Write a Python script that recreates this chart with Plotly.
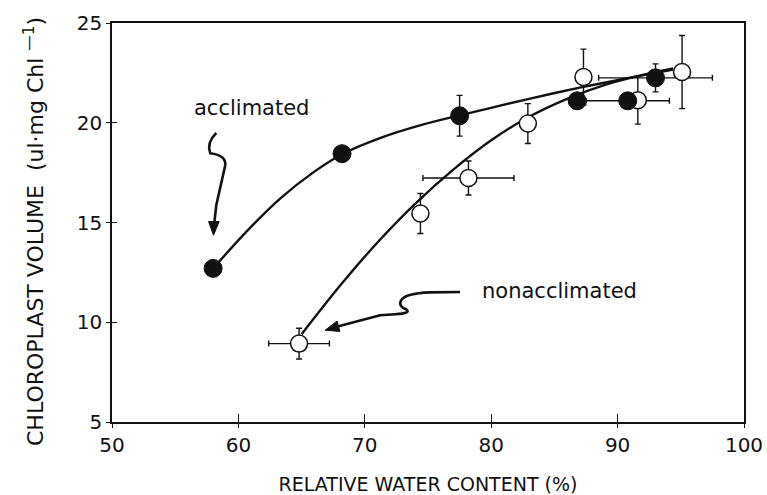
import plotly.graph_objects as go

# ---------------- data ----------------
acc_x = [58.0, 68.2, 77.5, 86.8, 90.8, 93.0]
acc_y = [12.7, 18.45, 20.35, 21.1, 21.1, 22.25]
acc_yerr = [0, 0, 1.02, 0, 0, 0.7]
acc_xerr = [0, 0, 0, 0, 3.3, 4.5]

non_x = [64.8, 74.4, 78.2, 82.9, 87.3, 91.6, 95.1]
non_y = [8.93, 15.45, 17.23, 19.96, 22.29, 21.13, 22.54]
non_yerr = [0.77, 1.0, 0.85, 1.0, 1.4, 1.2, 1.83]
non_xerr = [2.4, 0, 3.6, 0, 0, 0, 0]

# fitted curves
acc_curve_x = [58.0, 60.6, 63.3, 65.9, 68.2, 71.2, 74.5, 77.5, 83.0, 87.0, 90.5, 94.4]
acc_curve_y = [12.7, 14.52, 16.2, 17.5, 18.42, 19.23, 19.89, 20.37, 21.2, 21.76, 22.2, 22.67]
non_curve_x = [65.0, 68.0, 71.0, 74.0, 77.0, 80.0, 83.0, 86.0, 89.0, 92.0, 94.4]
non_curve_y = [9.4, 11.8, 14.0, 15.95, 17.65, 19.12, 20.3, 21.2, 21.9, 22.4, 22.72]

x_ticks = [50, 60, 70, 80, 90, 100]
y_ticks = [5, 10, 15, 20, 25]

FONT = "DejaVu Sans"
INK = "#111111"

fig = go.Figure()

# curves (main subplot, below markers)
fig.add_trace(go.Scatter(x=acc_curve_x, y=acc_curve_y, mode="lines",
                         line=dict(color=INK, width=2.4, shape="spline", smoothing=0.8),
                         hoverinfo="skip", showlegend=False))
fig.add_trace(go.Scatter(x=non_curve_x, y=non_curve_y, mode="lines",
                         line=dict(color=INK, width=2.4, shape="spline", smoothing=0.8),
                         hoverinfo="skip", showlegend=False))

# error bars of filled points (drawn beneath open circles)
fig.add_trace(go.Scatter(x=acc_x, y=acc_y, mode="markers", xaxis="x2", yaxis="y2",
                         marker=dict(size=2, color="rgba(0,0,0,0)"),
                         error_y=dict(type="data", array=acc_yerr, color=INK, thickness=1.4, width=3),
                         error_x=dict(type="data", array=acc_xerr, color=INK, thickness=1.4, width=3),
                         hoverinfo="skip", showlegend=False))

# open circles (nonacclimated)
fig.add_trace(go.Scatter(x=non_x, y=non_y, mode="markers", xaxis="x2", yaxis="y2",
                         marker=dict(size=17, color="white", line=dict(color=INK, width=1.5)),
                         error_y=dict(type="data", array=non_yerr, color=INK, thickness=1.4, width=3),
                         error_x=dict(type="data", array=non_xerr, color=INK, thickness=1.4, width=3),
                         name="nonacclimated", showlegend=False))

# filled circles (acclimated) on top
fig.add_trace(go.Scatter(x=acc_x, y=acc_y, mode="markers", xaxis="x2", yaxis="y2",
                         marker=dict(size=18, color=INK, line=dict(color=INK, width=1)),
                         name="acclimated", showlegend=False))

# squiggly arrows (line + filled head)
fig.add_shape(type="path", xref="x", yref="y",
              path="M 58.25,19.49 Q 57.45,18.97 57.77,18.47 Q 59.04,18.37 58.96,17.87 "
                   "L 58.25,15.86 L 58.08,14.9",
              line=dict(color=INK, width=2.6))
fig.add_shape(type="path", xref="x", yref="y",
              path="M 58.03,14.36 L 57.64,15.05 L 58.48,15.05 Z",
              line=dict(color=INK, width=1), fillcolor=INK)
fig.add_shape(type="path", xref="x", yref="y",
              path=("M 77.53,11.52 L 75.16,11.50 Q 73.19,11.45 72.87,11.10 "
                    "Q 72.63,10.80 73.27,10.65 Q 73.74,10.45 72.40,10.40 "
                    "L 71.21,10.35 L 67.92,9.80"),
              line=dict(color=INK, width=2.6))
fig.add_shape(type="path", xref="x", yref="y",
              path="M 66.86,9.60 L 68.03,9.54 L 67.81,10.06 Z",
              line=dict(color=INK, width=1), fillcolor=INK)

fig.add_annotation(x=61.07, y=20.72, xref="x", yref="y", text="acclimated",
                   showarrow=False, font=dict(family=FONT, size=21, color=INK))
fig.add_annotation(x=85.44, y=11.58, xref="x", yref="y", text="nonacclimated",
                   showarrow=False, font=dict(family=FONT, size=21, color=INK))

# y-axis title as rotated annotation
fig.add_annotation(x=-0.1245, y=0.477, xref="paper", yref="paper",
                   xanchor="center", yanchor="middle",
                   text="CHLOROPLAST VOLUME  (ul·mg Chl <sup>—1</sup>)",
                   textangle=-90, showarrow=False,
                   font=dict(family=FONT, size=22, color=INK))

axis_common = dict(showgrid=False, zeroline=False, linecolor=INK, linewidth=1.5,
                   tickcolor=INK, tickwidth=1.3, automargin=False,
                   tickfont=dict(family=FONT, size=20, color=INK))

fig.update_layout(
    width=767, height=495,
    margin=dict(l=112, r=23, t=23, b=73),
    paper_bgcolor="white", plot_bgcolor="white",
    showlegend=False,
    xaxis=dict(range=[50, 100], tickvals=x_ticks, ticks="outside", ticklen=4,
               mirror=True, showline=True,
               title=dict(text="RELATIVE WATER CONTENT (%)",
                          font=dict(family=FONT, size=19, color=INK), standoff=22),
               **axis_common),
    yaxis=dict(range=[5, 25], tickvals=y_ticks, ticks="outside", ticklen=4,
               mirror=True, showline=True, **axis_common),
    xaxis2=dict(range=[50, 100], overlaying="x", anchor="y2", side="bottom",
                tickvals=x_ticks, ticks="inside", ticklen=8, tickcolor=INK, tickwidth=1.3,
                showticklabels=False, showgrid=False, zeroline=False, showline=False,
                automargin=False),
    yaxis2=dict(range=[5, 25], overlaying="y", anchor="x2", side="left",
                tickvals=y_ticks, ticks="inside", ticklen=5, tickcolor=INK, tickwidth=1.3,
                showticklabels=False, showgrid=False, zeroline=False, showline=False,
                automargin=False),
)

# remove the default page margin so the 767x495 figure fills the window exactly
fig.write_html("out.html",
               config={"displayModeBar": False},
               post_script="document.body.style.margin='0';document.body.style.overflow='hidden';")
